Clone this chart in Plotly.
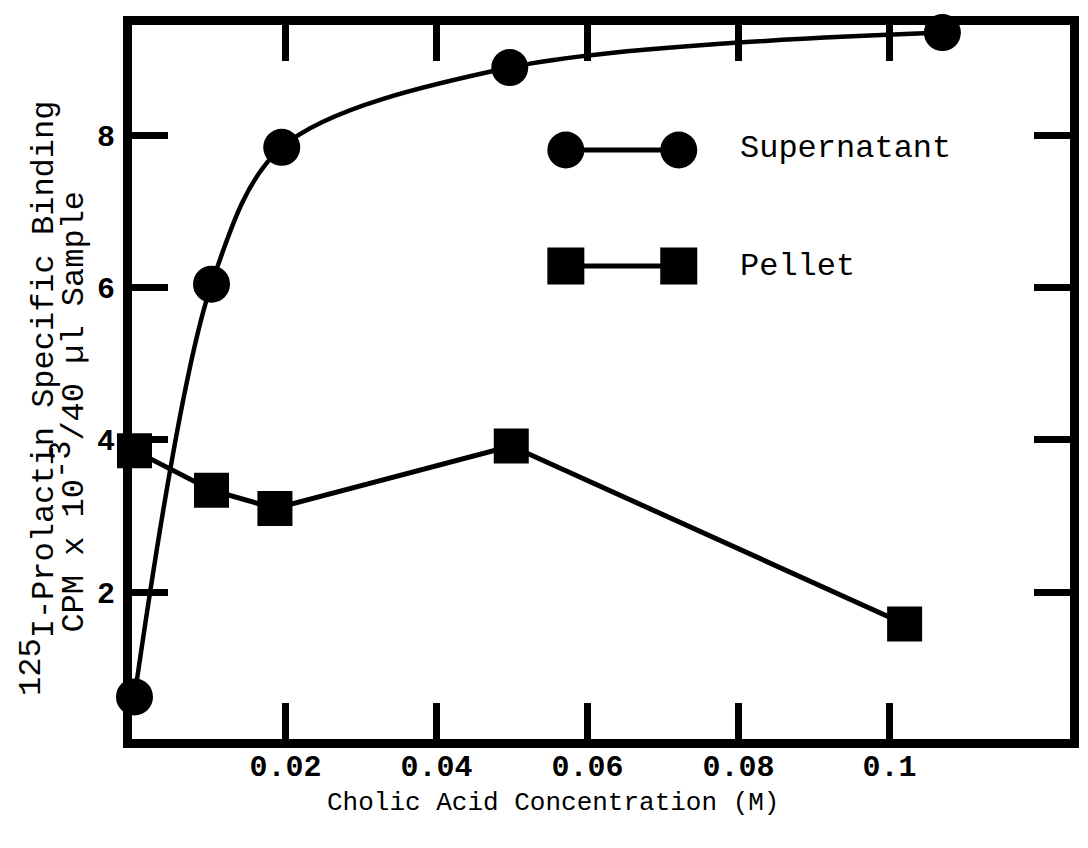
import plotly.graph_objects as go

# Data
sup_x = [0.0, 0.0102, 0.0195, 0.0497, 0.107]
sup_y = [0.62, 6.05, 7.85, 8.9, 9.36]
pel_x = [0.0, 0.0102, 0.0186, 0.0499, 0.102]
pel_y = [3.86, 3.34, 3.1, 3.92, 1.58]
x_ticks = [0.02, 0.04, 0.06, 0.08, 0.1]
x_ticktext = ["0.02", "0.04", "0.06", "0.08", "0.1"]
y_ticks = [2, 4, 6, 8]
y_ticktext = ["2", "4", "6", "8"]
series_names = ["Supernatant", "Pellet"]

FONT = "Liberation Mono, Courier New, monospace"
W, H = 1088, 848
L, R, T, B = 132, 9, 25, 109
pw, ph = W - L - R, H - T - B


def px(xp):
    return (xp - L) / pw


def py(yp):
    return (H - B - yp) / ph


fig = go.Figure()
fig.add_trace(go.Scatter(
    x=sup_x, y=sup_y, mode="lines+markers", name=series_names[0],
    line=dict(color="black", width=4.5, shape="spline", smoothing=0.9),
    marker=dict(symbol="circle", size=37, color="black"),
    cliponaxis=False, showlegend=False))
fig.add_trace(go.Scatter(
    x=pel_x, y=pel_y, mode="lines+markers", name=series_names[1],
    line=dict(color="black", width=5),
    marker=dict(symbol="square", size=35, color="black"),
    cliponaxis=False, showlegend=False))

axis_common = dict(
    showline=True, linecolor="black", linewidth=9, mirror="ticks",
    ticks="inside", ticklen=36, tickwidth=7, tickcolor="black",
    showgrid=False, zeroline=False,
    tickfont=dict(family=FONT, size=30, color="black", weight="bold"),
)
fig.update_xaxes(range=[-0.00033, 0.1239], tickvals=x_ticks, ticktext=x_ticktext,
                 ticklabelstandoff=-8, **axis_common)
fig.update_yaxes(range=[0.066, 9.46], tickvals=y_ticks, ticktext=y_ticktext,
                 ticklabelstandoff=2, **axis_common)

# Legend drawn manually (large markers joined by a line)
shapes = []
leg_rows = [(150, "circle"), (266, "rect")]
for yc, kind in leg_rows:
    shapes.append(dict(type="line", xref="paper", yref="paper",
                       x0=px(570), x1=px(684), y0=py(yc), y1=py(yc),
                       line=dict(color="black", width=5)))
    for xc in (570, 684):
        shapes.append(dict(type=kind, xref="paper", yref="paper",
                           xsizemode="pixel", ysizemode="pixel",
                           xanchor=px(xc), yanchor=py(yc),
                           x0=-18.5, x1=18.5, y0=-18.5, y1=18.5,
                           fillcolor="black", line=dict(color="black", width=0)))

FS_Y = 32
annotations = [
    dict(text=series_names[0], x=px(744), y=py(148), xref="paper", yref="paper",
         xanchor="left", yanchor="middle", showarrow=False,
         font=dict(family=FONT, size=32, color="black")),
    dict(text=series_names[1], x=px(744), y=py(266), xref="paper", yref="paper",
         xanchor="left", yanchor="middle", showarrow=False,
         font=dict(family=FONT, size=32, color="black")),
    dict(text="Cholic Acid Concentration (M)", x=px(557), y=py(803),
         xref="paper", yref="paper", xanchor="center", yanchor="middle",
         showarrow=False, font=dict(family=FONT, size=26, color="black")),
    dict(text=f"<sup><span style='font-size:{FS_Y}px'>125</span></sup>I-Prolactin Specific Binding",
         x=px(37), y=py(398),
         xref="paper", yref="paper", xanchor="center", yanchor="middle",
         textangle=-90, showarrow=False,
         font=dict(family=FONT, size=FS_Y, color="black")),
    dict(text=f"CPM x 10<sup><span style='font-size:{FS_Y}px'>-3</span></sup>/40 µl Sample",
         x=px(67), y=py(412),
         xref="paper", yref="paper", xanchor="center", yanchor="middle",
         textangle=-90, showarrow=False,
         font=dict(family=FONT, size=FS_Y, color="black")),
]

fig.update_layout(
    width=W, height=H,
    margin=dict(l=L, r=R, t=T, b=B, pad=0),
    paper_bgcolor="white", plot_bgcolor="white",
    shapes=shapes, annotations=annotations, showlegend=False,
)

fig.write_html("out.html")
